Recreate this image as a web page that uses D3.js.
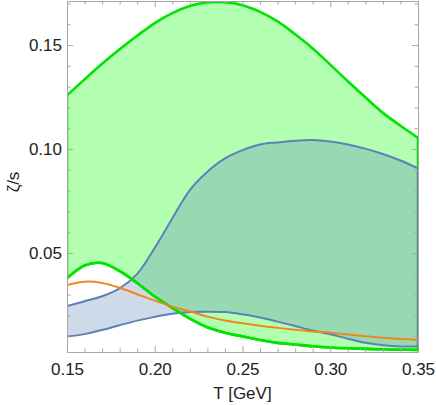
<!DOCTYPE html>
<html>
<head>
<meta charset="utf-8">
<script src="https://cdn.jsdelivr.net/npm/d3@7"></script>
<style>
  body { margin: 0; background: #fff; }
  text { font-family: "Liberation Sans", Arial, sans-serif; }
</style>
</head>
<body>
<svg id="mainsvg" width="436" height="405"></svg>
<script>
// temperature grid (GeV)
const temps = [0.15, 0.16, 0.17, 0.18, 0.19, 0.20, 0.21, 0.22, 0.23, 0.24, 0.25,
               0.26, 0.27, 0.28, 0.29, 0.30, 0.31, 0.32, 0.33, 0.34, 0.35];
// green band
const greenUpper = [0.1258, 0.1335, 0.1410, 0.1480, 0.1545, 0.1606, 0.1654, 0.1688, 0.1705, 0.1706, 0.1692,
                    0.1660, 0.1614, 0.1552, 0.1484, 0.1406, 0.1326, 0.1249, 0.1174, 0.1112, 0.1054];
const greenLower = [0.0378, 0.0440, 0.0452, 0.0413, 0.0356, 0.0291, 0.0236, 0.0185, 0.0143, 0.0117, 0.0099,
                    0.0082, 0.0068, 0.0060, 0.0052, 0.0046, 0.0042, 0.0039, 0.0037, 0.0035, 0.0034];
// blue band
const blueUpper = [0.0245, 0.0268, 0.0292, 0.0330, 0.0400, 0.0525, 0.0666, 0.0803, 0.0891, 0.0955, 0.0995,
                   0.1022, 0.1032, 0.1040, 0.1043, 0.1036, 0.1022, 0.1002, 0.0976, 0.0945, 0.0907];
const blueLower = [0.0098, 0.0110, 0.0130, 0.0153, 0.0175, 0.0193, 0.0208, 0.0216, 0.0218, 0.0216, 0.0205,
                   0.0190, 0.0170, 0.0149, 0.0127, 0.0109, 0.0088, 0.0068, 0.0057, 0.0051, 0.0050];
// orange curve
const orangeLine = [0.0346, 0.0362, 0.0356, 0.0333, 0.0302, 0.0271, 0.0242, 0.0220, 0.0194, 0.0176, 0.0162,
                    0.0150, 0.0140, 0.0131, 0.0123, 0.0117, 0.0108, 0.0100, 0.0093, 0.0087, 0.0082];

const xTicks = [0.15, 0.20, 0.25, 0.30, 0.35];
const yTicks = [0.05, 0.10, 0.15];
const xLabel = 'T [GeV]';
const yLabel = 'ζ/s';

const svg = d3.select('#mainsvg');
const plotLeft = 67, plotRight = 418, plotTop = 1, plotBottom = 352;

const xScale = d3.scaleLinear().domain([0.15, 0.35]).range([plotLeft, plotRight]);
const yScale = d3.scaleLinear().domain([0.0024, 0.1712]).range([plotBottom, plotTop]);

const rows = temps.map((t, i) => ({
  t: t, gu: greenUpper[i], gl: greenLower[i], bu: blueUpper[i], bl: blueLower[i], o: orangeLine[i]
}));

svg.append('defs').append('clipPath').attr('id', 'plotclip')
  .append('rect').attr('x', plotLeft).attr('y', plotTop)
  .attr('width', plotRight - plotLeft).attr('height', plotBottom - plotTop);

const g = svg.append('g').attr('clip-path', 'url(#plotclip)');

const curve = d3.curveCatmullRom.alpha(0.5);
const band = (lo, hi) => d3.area().x(d => xScale(d.t)).y0(d => yScale(d[lo])).y1(d => yScale(d[hi])).curve(curve);
const line = key => d3.line().x(d => xScale(d.t)).y(d => yScale(d[key])).curve(curve);

// fills
g.append('path').datum(rows).attr('d', band('gl', 'gu'))
  .attr('fill', '#00ff00').attr('fill-opacity', 0.3)
  .attr('stroke', '#00e400').attr('stroke-width', 2.6).attr('stroke-linejoin', 'round');
g.append('path').datum(rows).attr('d', band('bl', 'bu'))
  .attr('fill', '#5e81b5').attr('fill-opacity', 0.3)
  .attr('stroke', '#5e81b5').attr('stroke-width', 2).attr('stroke-linejoin', 'round');

// redraw green lower over blue (it crosses the blue band)
g.append('path').datum(rows).attr('d', line('gl'))
  .attr('fill', 'none').attr('stroke', '#00e400').attr('stroke-width', 2.6);

g.append('path').datum(rows).attr('d', line('o'))
  .attr('fill', 'none').attr('stroke', '#f0861e').attr('stroke-width', 2);

// frame + ticks (inward, on all sides)
const frameColor = '#a6a6a6';
const minorX = d3.range(0.15, 0.3501, 0.01).filter(v => !xTicks.some(t => Math.abs(t - v) < 1e-6));
const minorY = d3.range(0.01, 0.1701, 0.01).filter(v => !yTicks.some(t => Math.abs(t - v) < 1e-6));

function styleAxis(sel) {
  sel.selectAll('line').attr('stroke', frameColor);
  sel.selectAll('.domain').attr('stroke', frameColor);
  sel.selectAll('text').attr('font-size', '17px').attr('fill', '#222')
    .attr('font-family', '"Liberation Sans", Arial, sans-serif');
}

const fmt = d3.format('.2f');
svg.append('g').attr('transform', `translate(0,${plotBottom})`)
  .call(d3.axisBottom(xScale).tickValues(xTicks).tickFormat(fmt).tickSizeInner(-6).tickSizeOuter(0).tickPadding(10.5))
  .call(styleAxis);
svg.append('g').attr('transform', `translate(0,${plotBottom})`)
  .call(d3.axisBottom(xScale).tickValues(minorX).tickFormat('').tickSizeInner(-3.5).tickSizeOuter(0))
  .call(styleAxis);
svg.append('g').attr('transform', `translate(0,${plotTop})`)
  .call(d3.axisTop(xScale).tickValues(xTicks).tickFormat('').tickSizeInner(-6).tickSizeOuter(0))
  .call(styleAxis);
svg.append('g').attr('transform', `translate(0,${plotTop})`)
  .call(d3.axisTop(xScale).tickValues(minorX).tickFormat('').tickSizeInner(-3.5).tickSizeOuter(0))
  .call(styleAxis);

svg.append('g').attr('transform', `translate(${plotLeft},0)`)
  .call(d3.axisLeft(yScale).tickValues(yTicks).tickFormat(fmt).tickSizeInner(-6).tickSizeOuter(0).tickPadding(5))
  .call(styleAxis);
svg.append('g').attr('transform', `translate(${plotLeft},0)`)
  .call(d3.axisLeft(yScale).tickValues(minorY).tickFormat('').tickSizeInner(-3.5).tickSizeOuter(0))
  .call(styleAxis);
svg.append('g').attr('transform', `translate(${plotRight},0)`)
  .call(d3.axisRight(yScale).tickValues(yTicks).tickFormat('').tickSizeInner(-6).tickSizeOuter(0))
  .call(styleAxis);
svg.append('g').attr('transform', `translate(${plotRight},0)`)
  .call(d3.axisRight(yScale).tickValues(minorY).tickFormat('').tickSizeInner(-3.5).tickSizeOuter(0))
  .call(styleAxis);

// axis labels
svg.append('text')
  .attr('x', (plotLeft + plotRight) / 2).attr('y', 399)
  .attr('text-anchor', 'middle').attr('font-size', '17px').attr('fill', '#222')
  .text(xLabel);
svg.append('text')
  .attr('transform', 'translate(19,182) rotate(-90)')
  .attr('text-anchor', 'middle').attr('font-size', '17px').attr('fill', '#222')
  .text(yLabel);
</script>
</body>
</html>
